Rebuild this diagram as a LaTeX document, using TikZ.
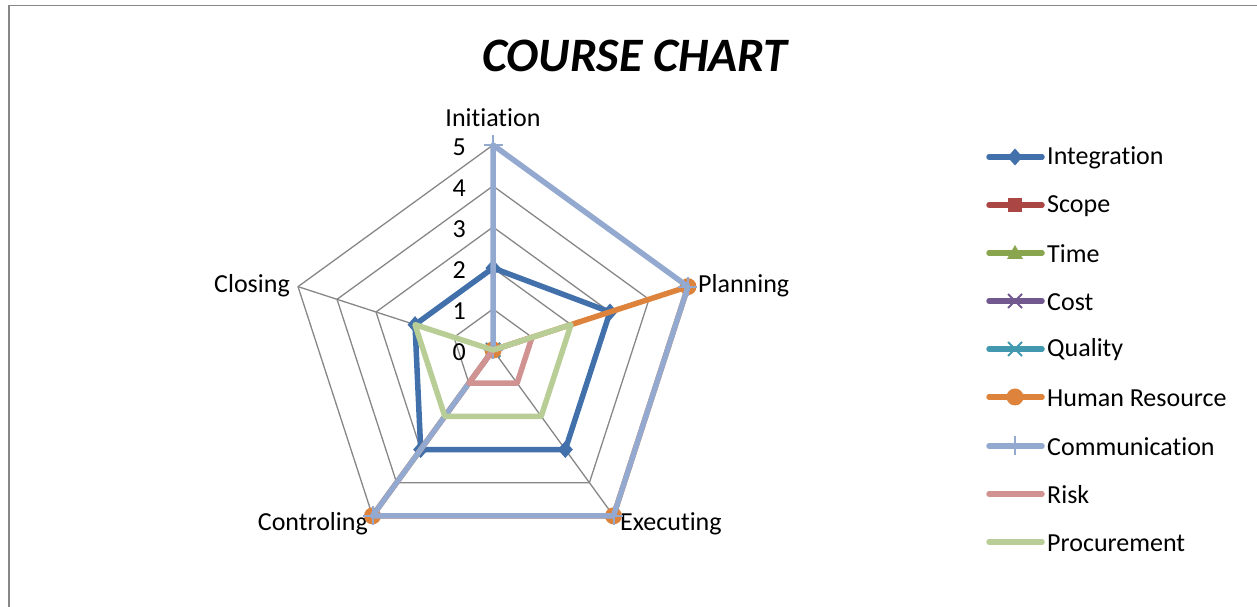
\documentclass[tikz,border=0pt]{standalone}
\usepackage{fontspec}
\setmainfont[Ligatures=NoCommon]{Carlito}
\definecolor{cInt}{HTML}{4170AA}
\definecolor{cScope}{HTML}{AA4643}
\definecolor{cTime}{HTML}{89A54E}
\definecolor{cCost}{HTML}{71588F}
\definecolor{cQual}{HTML}{4198AF}
\definecolor{cHR}{HTML}{DE833B}
\definecolor{cComm}{HTML}{93A9CF}
\definecolor{cRisk}{HTML}{D19392}
\definecolor{cProc}{HTML}{B9CD96}
\definecolor{cGrid}{HTML}{878787}
\tikzset{
  gridline/.style={draw=cGrid, line width=1.3},
  ser/.style={line width=5.5, line join=round},
  legline/.style={line width=5.5, line cap=round},
  lbl/.style={font=\fontsize{26}{26}\selectfont, inner sep=0pt},
  mdiamond/.pic={\fill (0,8.5) -- (7.5,0) -- (0,-8.5) -- (-7.5,0) -- cycle;},
  msquare/.pic={\fill (-7,-7) rectangle (7,7);},
  mtriangle/.pic={\fill (0,8) -- (8,-6) -- (-8,-6) -- cycle;},
  mcross/.pic={\draw[line width=1.8] (-7,-7) -- (7,7) (-7,7) -- (7,-7);},
  mstar/.pic={\draw[line width=1.8] (-7,-7) -- (7,7) (-7,7) -- (7,-7) (-9,0) -- (9,0);},
  mcircle/.pic={\fill (0,0) circle (8.5);},
  mplus/.pic={\draw[line width=2] (0,-9.5) -- (0,9.5) (-9.5,0) -- (9.5,0);},
}
\newcommand\radarpoly[6]{%
  \draw[ser,#1] (90:{#2*41}) -- (18:{#3*41}) -- (-54:{#4*41}) -- (-126:{#5*41}) -- (162:{#6*41}) -- cycle;}
\newcommand\radarmarks[7]{%
  \foreach \ang/\val in {90/#3,18/#4,-54/#5,-126/#6,162/#7}
    \pic[#1] at (\ang:{\val*41}) {#2};}
\begin{document}
\begin{tikzpicture}[x=1pt,y=1pt]
\useasboundingbox (0,0) rectangle (1257,607);
\draw[draw=cGrid, line width=1.6] (9,0) -- (9,601.5) -- (1257,601.5);
\node[font=\fontsize{48}{48}\selectfont\bfseries\itshape, inner sep=0pt] (title) at (635,551) {COURSE CHART};

\begin{scope}[shift={(493,257)}]
  \coordinate (O) at (0,0);
  \foreach \k in {1,...,5}
    \draw[gridline] (90:{\k*41}) -- (18:{\k*41}) -- (-54:{\k*41}) -- (-126:{\k*41}) -- (162:{\k*41}) -- cycle;
  \foreach \a in {90,18,-54,-126,162}
    \draw[gridline] (O) -- (\a:205);
  % axis numbers
  \foreach \k in {0,...,5}
    \node[lbl, anchor=east] (num\k) at (-27,{\k*41-2}) {\k};
  % category labels
  \node[lbl] (lInit) at (0,232) {Initiation};
  \node[lbl, anchor=west] (lPlan) at (205,64) {Planning};
  \node[lbl, anchor=west] (lExec) at (127,-174) {Executing};
  \node[lbl, anchor=east] (lCtrl) at (-125,-174) {Controling};
  \node[lbl, anchor=east] (lClos) at (-203,64) {Closing};

  % series
  \radarpoly{cInt}{2}{3}{3}{3}{2}
  \radarmarks{cInt}{mdiamond}{2}{3}{3}{3}{2}
  \pic[cScope] at (O) {msquare};
  \pic[cTime] at (O) {mtriangle};
  \pic[cCost] at (O) {mcross};
  \pic[cQual] at (O) {mstar};
  \radarpoly{cHR}{0}{5}{5}{5}{0}
  \radarmarks{cHR}{mcircle}{0}{5}{5}{5}{0}
  \radarpoly{cComm}{5}{5}{5}{5}{0}
  \radarmarks{cComm}{mplus}{5}{5}{5}{5}{0}
  \radarpoly{cRisk}{0}{1}{1}{1}{0}
  \radarpoly{cProc}{0}{2}{2}{2}{2}
\end{scope}

% legend
\foreach \name/\col/\yy [count=\i] in {
  Integration/cInt/450,
  Scope/cScope/402,
  Time/cTime/354,
  Cost/cCost/306,
  Quality/cQual/258,
  Human Resource/cHR/210,
  Communication/cComm/161,
  Risk/cRisk/113,
  Procurement/cProc/65}{
  \coordinate (ls\i) at (989,\yy);
  \coordinate (le\i) at (1042,\yy);
  \draw[legline,\col] (ls\i) -- (le\i);
  \node[lbl, anchor=west] (leg\i) at (1047,{\yy-1}) {\name};
}
\pic[cInt] at (1015,450) {mdiamond};
\pic[cScope] at (1015,402) {msquare};
\pic[cTime] at (1015,354) {mtriangle};
\pic[cCost] at (1015,306) {mcross};
\pic[cQual] at (1015,258) {mstar};
\pic[cHR] at (1015,210) {mcircle};
\pic[cComm] at (1015,161) {mplus};
\end{tikzpicture}
\end{document}
